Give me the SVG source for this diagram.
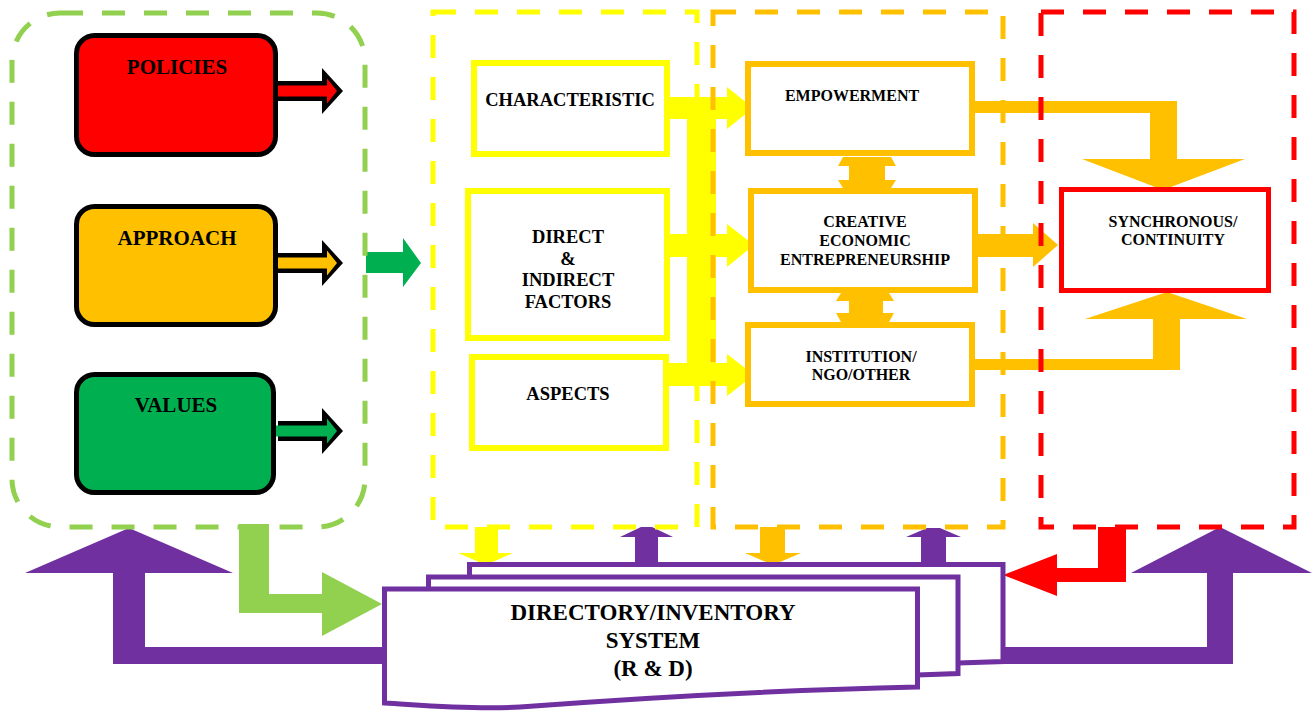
<svg xmlns="http://www.w3.org/2000/svg" width="1316" height="711" viewBox="0 0 1316 711">
<style>
text { font-family: "Liberation Serif", "Times New Roman", serif; font-weight: bold; fill: #000; text-anchor: middle; }
.dash { fill: none; stroke-width: 5; stroke-dasharray: 23 19; }
.lbox { stroke: #000; stroke-width: 5; }
.ybox { fill: #fff; stroke: #FFFF00; stroke-width: 6; }
.obox { fill: #fff; stroke: #FFC000; stroke-width: 6; }
.pbox { fill: #fff; stroke: #7030A0; stroke-width: 5; stroke-linejoin: miter; }
.t21 { font-size: 21px; }
.t18 { font-size: 18.5px; }
.t16 { font-size: 16px; }
.t23 { font-size: 23px; }
</style>
<defs>
  <path id="arrOut" d="M0,-10 H44 V-23 L65,0 L44,23 V10 H0 Z"/>
  <path id="arrIn" d="M-2,-5.5 H49 V-12.5 L59,0 L49,12.5 V5.5 H-2 Z"/>
</defs>
<rect width="1316" height="711" fill="#fff"/>

<g id="connectors">
  <!-- left small arrows -->
  <use href="#arrOut" x="278" y="91" fill="#000"/>
  <use href="#arrIn" x="278" y="91" fill="#FF0000"/>
  <use href="#arrOut" x="278" y="263" fill="#000"/>
  <use href="#arrIn" x="278" y="263" fill="#FFC000"/>
  <use href="#arrOut" x="278" y="431" fill="#000"/>
  <use href="#arrIn" x="278" y="431" fill="#00B050"/>
  <!-- green arrow into yellow group -->
  <polygon points="366,252 403,252 403,238 421,263 403,287 403,273 366,273" fill="#00B050"/>
  <!-- yellow bus -->
  <rect x="687" y="97" width="29" height="289" fill="#FFFF00"/>
  <polygon points="669,97 727,97 727,87 753,108 727,129 727,119 669,119" fill="#FFFF00"/>
  <polygon points="669,234 727,234 727,224 754,245 727,267 727,257 669,257" fill="#FFFF00"/>
  <polygon points="669,363 727,363 727,354 754,375 727,396 727,386 669,386" fill="#FFFF00"/>
  <!-- double arrows between orange boxes -->
  <polygon points="843,157 891,157 896,166 885,166 885,180 896,180 891,188 843,188 838,180 849,180 849,166 838,166" fill="#FFC000"/>
  <polygon points="841,293 889,293 894,301 883,301 883,313 894,313 889,322 841,322 836,313 849,313 849,301 836,301" fill="#FFC000"/>
  <!-- to synchronous -->
  <polygon points="975,101 1177,101 1177,159 1245,159 1163,190 1082,159 1150,159 1150,113 975,113" fill="#FFC000"/>
  <polygon points="978,234 1033,234 1033,223 1058,245 1033,267 1033,257 978,257" fill="#FFC000"/>
  <polygon points="975,359 1153,359 1153,319 1085,319 1167,292 1247,319 1180,319 1180,370 975,370" fill="#FFC000"/>
  <!-- bottom connectors -->
  <polygon points="113,664 113,573 25,573 129,528 233,573 145,573 145,647 382,647 382,664" fill="#7030A0"/>
  <polygon points="239,524 269,524 269,594 322,594 322,572 382,604 322,636 322,613 239,613" fill="#92D050"/>
  <polygon points="475,527 498,527 498,553 513,553 486,565 458,553 475,553" fill="#FFFF00"/>
  <polygon points="635,564 635,537 620,537 641,527 652,527 673,537 658,537 658,564" fill="#7030A0"/>
  <polygon points="760,527 785,527 785,553 801,553 773,565 745,553 760,553" fill="#FFC000"/>
  <polygon points="921,564 921,537 906,537 927,528 940,528 961,537 946,537 946,564" fill="#7030A0"/>
  <polygon points="1098,527 1126,527 1126,582 1057,582 1057,596 1003,575 1057,554 1057,568 1098,568" fill="#FF0000"/>
  <polygon points="1003,647 1207,647 1207,573 1131,573 1220,527 1312,573 1233,573 1233,664 1003,664" fill="#7030A0"/>
</g>

<g id="containers">
  <rect id="group-green" x="12" y="13" width="353" height="514" rx="48" class="dash" stroke="#92D050"/>
  <rect id="group-yellow" x="433" y="12" width="264" height="515" class="dash" stroke="#FFFF00"/>
  <rect id="group-orange" x="713" y="12" width="290" height="515" class="dash" stroke="#FFC000"/>
  <rect id="group-red" x="1041" y="12" width="253" height="515" class="dash" stroke="#FF0000"/>
</g>

<g id="policies">
  <rect x="76.5" y="35.5" width="199" height="119" rx="18" class="lbox" fill="#FF0000"/>
  <text x="177" y="74" class="t21">POLICIES</text>
</g>
<g id="approach">
  <rect x="76.5" y="206.5" width="199" height="118" rx="18" class="lbox" fill="#FFC000"/>
  <text x="177" y="245" class="t21">APPROACH</text>
</g>
<g id="values">
  <rect x="76.5" y="374.5" width="197" height="118" rx="18" class="lbox" fill="#00B050"/>
  <text x="176" y="412" class="t21">VALUES</text>
</g>

<g id="characteristic">
  <rect x="474" y="63" width="193" height="91" class="ybox"/>
  <text x="570" y="106" class="t18">CHARACTERISTIC</text>
</g>
<g id="factors">
  <rect x="468" y="191" width="199" height="147" class="ybox"/>
  <text x="568" y="243" class="t18">DIRECT</text>
  <text x="568" y="265" class="t18">&amp;</text>
  <text x="568" y="286" class="t18">INDIRECT</text>
  <text x="568" y="308" class="t18">FACTORS</text>
</g>
<g id="aspects">
  <rect x="472" y="357" width="194" height="91" class="ybox"/>
  <text x="568" y="400" class="t18">ASPECTS</text>
</g>

<g id="empowerment">
  <rect x="748" y="64" width="224" height="89" class="obox"/>
  <text x="852" y="101" class="t16">EMPOWERMENT</text>
</g>
<g id="creative">
  <rect x="751" y="191" width="224" height="99" class="obox"/>
  <text x="865" y="227" class="t16">CREATIVE</text>
  <text x="865" y="246" class="t16">ECONOMIC</text>
  <text x="865" y="265" class="t16">ENTREPRENEURSHIP</text>
</g>
<g id="institution">
  <rect x="748" y="325" width="224" height="79" class="obox"/>
  <text x="861" y="362" class="t16">INSTITUTION/</text>
  <text x="861" y="380" class="t16">NGO/OTHER</text>
</g>

<g id="synchronous">
  <rect x="1061.5" y="189.5" width="207" height="101" fill="#fff" stroke="#FF0000" stroke-width="5"/>
  <text x="1173" y="227" class="t16">SYNCHRONOUS/</text>
  <text x="1173" y="245" class="t16">CONTINUITY</text>
</g>

<g id="directory">
  <path class="pbox" d="M469.5,564.5 H1003 V661.5 L958,663 L469.5,680 Z"/>
  <path class="pbox" d="M428.5,577 H958 V673.5 L917,675 L428.5,690 Z"/>
  <path class="pbox" d="M384.5,589 H917.5 V687 C780,690 640,698 520,707 C470,710 420,705 384.5,703 Z"/>
  <text x="653" y="620" class="t23">DIRECTORY/INVENTORY</text>
  <text x="653" y="648" class="t23">SYSTEM</text>
  <text x="653" y="676" class="t23">(R &amp; D)</text>
</g>
</svg>
